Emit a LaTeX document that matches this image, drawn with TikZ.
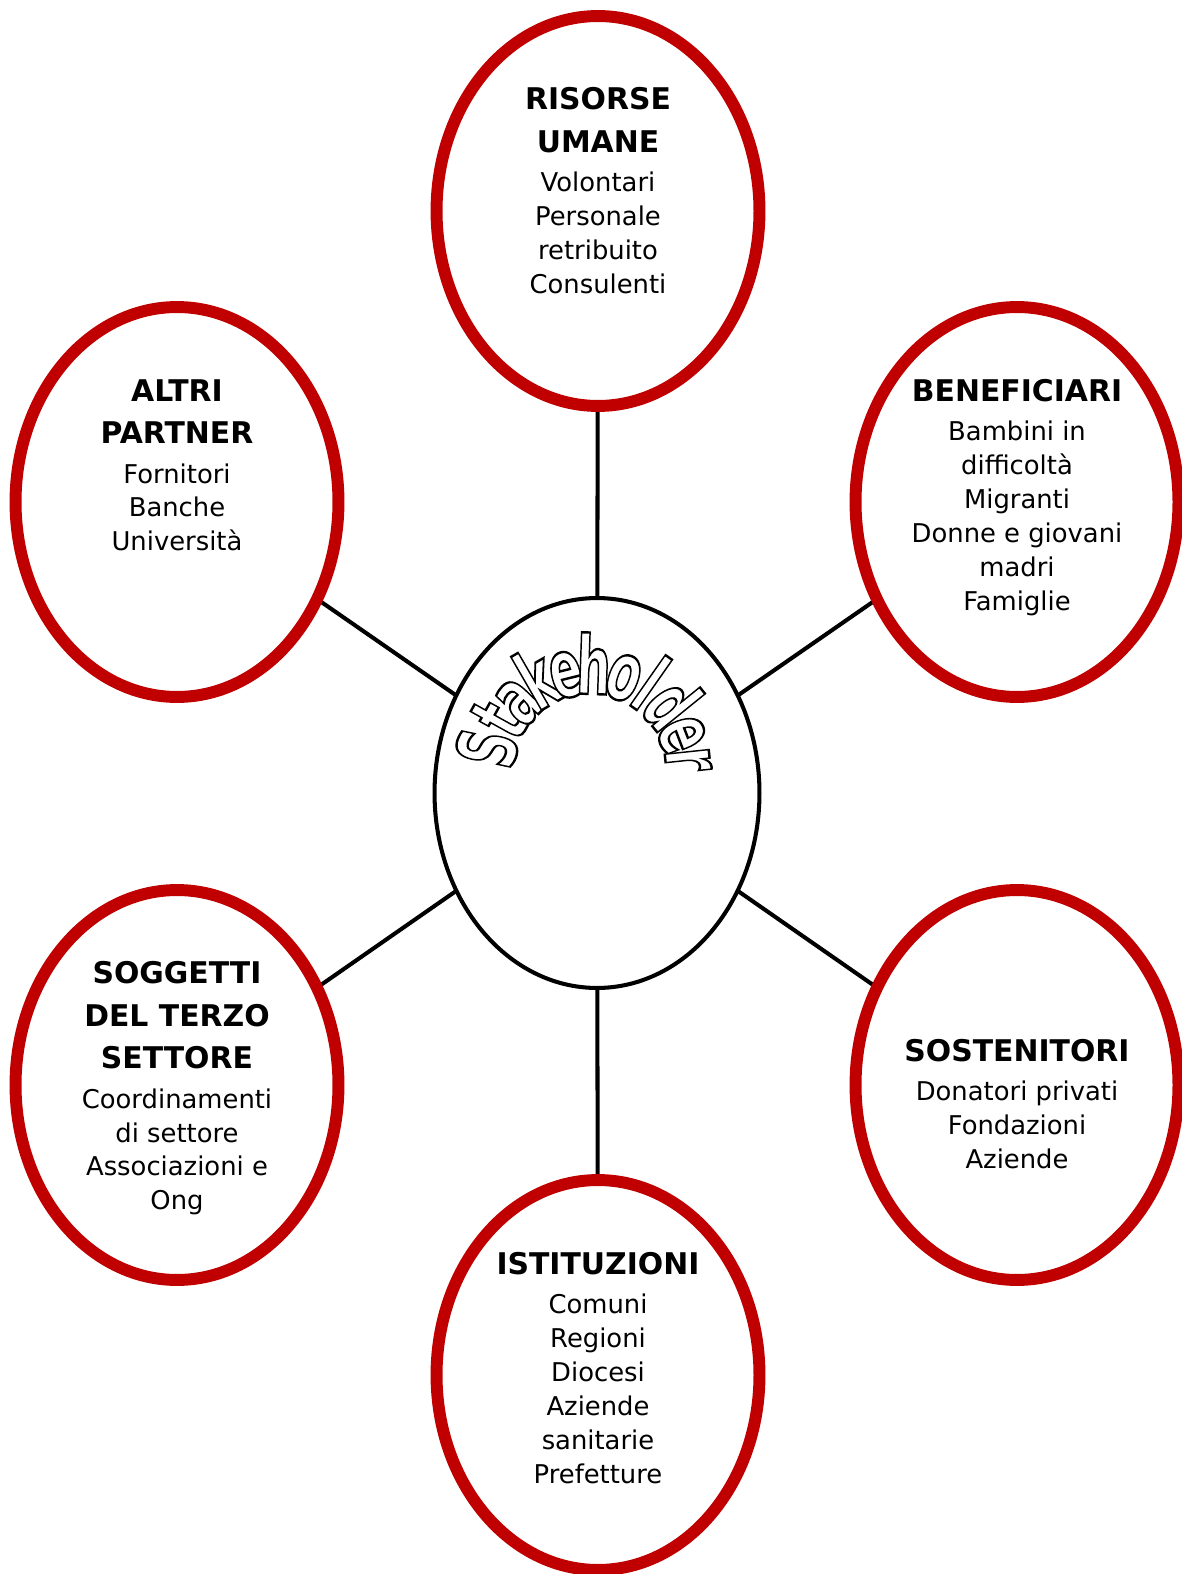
\documentclass[tikz,border=0pt]{standalone}
\usepackage{fontspec}
\setmainfont{DejaVu Sans}
\newfontfamily\archfont[FakeBold=3]{DejaVu Sans}
\usetikzlibrary{shapes.geometric,calc,backgrounds}
\definecolor{ringred}{RGB}{192,0,0}
\newcommand{\ttlf}{\fontsize{17}{24.4}\selectfont\bfseries}
\newcommand{\bodyf}{\fontsize{14.7}{19.3}\selectfont}
\newcommand{\outl}[1]{\scalebox{0.6}[1]{\special{pdf:literal direct 1 g}#1\special{pdf:literal direct 0 g}}}

\begin{document}
\begin{tikzpicture}[x=0.02cm, y=-0.02cm,
    ring/.style={draw=ringred, line width=6.8pt, ellipse, fill=white, minimum width=6.46cm, minimum height=7.8cm, inner sep=0pt, outer sep=0pt},
    hub/.style={draw, line width=2.3pt, ellipse, fill=white, minimum width=6.5cm, minimum height=7.8cm, inner sep=0pt, outer sep=0pt},
    txt/.style={align=center, anchor=north, inner sep=0pt, font=\bodyf},
    letter/.style={anchor=base, inner sep=0pt, font=\archfont\bfseries\fontsize{46}{46}\selectfont},
    link/.style={line width=2.3pt}]
    \clip (0,0) rectangle (1182,1574);
    \node[hub] (stk) at (597,793) {};
    \node[ring] (hum) at (598,211) {};
    \node[ring] (alt) at (177,502) {};
    \node[ring] (ben) at (1017,502) {};
    \node[ring] (ter) at (177,1085) {};
    \node[ring] (sos) at (1017,1085) {};
    \node[ring] (ist) at (598,1375) {};
    \begin{scope}[on background layer]
        \foreach \n in {hum,alt,ben,ter,sos,ist}
            \draw[link] (stk) -- (\n);
    \end{scope}
    \node[txt] (humtxt) at (598,87) {\ttlf RISORSE\\[5pt]\ttlf UMANE\\[3pt]Volontari\\Personale\\retribuito\\Consulenti};
    \node[txt] (alttxt) at (177,379) {\ttlf ALTRI\\[5pt]\ttlf PARTNER\\[3pt]Fornitori\\Banche\\Università};
    \node[txt] (bentxt) at (1017,379) {\ttlf BENEFICIARI\\[3pt]Bambini in\\difficoltà\\Migranti\\Donne e giovani\\madri\\Famiglie};
    \node[txt] (tertxt) at (177,961) {\ttlf SOGGETTI\\[5pt]\ttlf DEL TERZO\\[5pt]\ttlf SETTORE\\[3pt]Coordinamenti\\di settore\\Associazioni e\\Ong};
    \node[txt] (sostxt) at (1017,1039) {\ttlf SOSTENITORI\\[3pt]Donatori privati\\Fondazioni\\Aziende};
    \node[txt] (isttxt) at (598,1252) {\ttlf ISTITUZIONI\\[3pt]Comuni\\Regioni\\Diocesi\\Aziende\\sanitarie\\Prefetture};
    % arched title
    \coordinate (arc) at (590,770);
    \foreach \ch/\ang [count=\i] in {S/168,t/151,a/136,k/120,e/104,h/88,o/70,l/55,d/39,e/21,r/6}
        \node[letter, rotate=\ang-90] (sk\i) at ($(arc)+(\ang:1.52cm)$) {\outl{\ch}};
\end{tikzpicture}
\end{document}
